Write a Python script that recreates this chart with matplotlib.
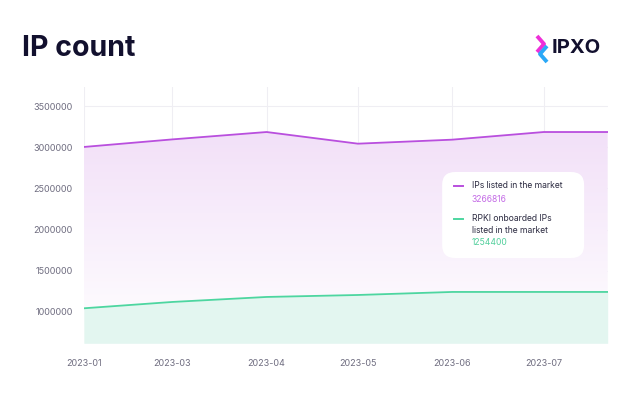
import numpy as np
import matplotlib
matplotlib.use("Agg")
import matplotlib.pyplot as plt
import matplotlib.dates as mdates
from matplotlib.patches import FancyBboxPatch, Polygon
from matplotlib.lines import Line2D
from datetime import datetime

plt.rcParams['font.family'] = ['Inter', 'DejaVu Sans']

dates = ["2023-01-31", "2023-03-01", "2023-04-01", "2023-05-01",
         "2023-06-01", "2023-07-01", "2023-07-22"]
ips_listed = [3005000, 3097000, 3187000, 3045000, 3094000, 3187000, 3187000]
rpki_listed = [1041000, 1118000, 1179000, 1203000, 1240000, 1240000, 1240000]
yticks = [1000000, 1500000, 2000000, 2500000, 3000000, 3500000]
legend_labels = ["IPs listed in the market", "RPKI onboarded IPs\nlisted in the market"]
legend_values = ["3266816", "1254400"]

purple = "#b94fde"
green = "#4dd6a0"
grid_c = "#efeef3"
tick_c = "#6f6d80"
text_c = "#2b2a40"

x = mdates.date2num([datetime.strptime(d, "%Y-%m-%d") for d in dates])
ymin, ymax = 615000, 3732000

fig = plt.figure(figsize=(6.4, 3.93), dpi=100)
ax = fig.add_axes([0.131, 0.1265, 0.8185, 0.6515])

# purple area, vertical gradient clipped to the area under the line
grad = np.linspace(0, 1, 256)
top_rgb = np.array([0xf2, 0xe0, 0xf8]) / 255
img = np.ones((256, 1, 4))
for i in range(3):
    img[:, 0, i] = 1 + (top_rgb[i] - 1) * grad
im = ax.imshow(img, aspect="auto", origin="lower",
               extent=[x[0], x[-1], ymin, max(ips_listed)], zorder=1)
poly = Polygon(np.column_stack([np.r_[x, x[::-1]],
                                np.r_[ips_listed, [ymin] * len(x)]]),
               transform=ax.transData, facecolor="none", edgecolor="none")
ax.add_patch(poly)
im.set_clip_path(poly)

ax.fill_between(x, ymin, rpki_listed, color="#e3f6f0", zorder=2, lw=0)
ax.plot(x, ips_listed, color=purple, lw=1.3, zorder=3)
ax.plot(x, rpki_listed, color=green, lw=1.3, zorder=3)

ax.set_xlim(x[0], x[-1])
ax.set_ylim(ymin, ymax)
ax.set_xticks(x[:-1])
ax.xaxis.set_major_formatter(mdates.DateFormatter("%Y-%m"))
ax.set_yticks(yticks)
ax.set_yticklabels([str(v) for v in yticks])
ax.tick_params(axis="both", length=0, labelsize=6.5, colors=tick_c)
ax.tick_params(axis="y", pad=8)
ax.tick_params(axis="x", pad=11)
ax.grid(True, color=grid_c, lw=0.8, zorder=0)
ax.set_axisbelow(True)
for s in ax.spines.values():
    s.set_visible(False)

# legend card
box = FancyBboxPatch((0.684, 0.333), 0.271, 0.336,
                     boxstyle="round,pad=0,rounding_size=0.025",
                     transform=ax.transAxes, facecolor="white", edgecolor="none",
                     zorder=5, mutation_aspect=2.0)
ax.add_patch(box)

tx = 0.741
ax.add_line(Line2D([0.7065, 0.724], [0.615, 0.615], transform=ax.transAxes,
                   color=purple, lw=1.4, zorder=6))
ax.text(tx, 0.615, legend_labels[0], transform=ax.transAxes, fontsize=6.2,
        color=text_c, va="center", ha="left", zorder=6)
ax.text(tx, 0.560, legend_values[0], transform=ax.transAxes, fontsize=6.2,
        color="#c46be6", va="center", ha="left", zorder=6)

ax.add_line(Line2D([0.7065, 0.724], [0.486, 0.486], transform=ax.transAxes,
                   color=green, lw=1.4, zorder=6))
l1, l2 = legend_labels[1].split("\n")
ax.text(tx, 0.486, l1, transform=ax.transAxes, fontsize=6.2,
        color=text_c, va="center", ha="left", zorder=6)
ax.text(tx, 0.439, l2, transform=ax.transAxes, fontsize=6.2,
        color=text_c, va="center", ha="left", zorder=6)
ax.text(tx, 0.392, legend_values[1], transform=ax.transAxes, fontsize=6.2,
        color="#52cf9c", va="center", ha="left", zorder=6)

# title
fig.text(22 / 640, 1 - 48 / 393, "IP count", fontsize=20.5, fontweight="bold",
         color="#12102e", va="center", ha="left")

# logo
W, H = 640, 393
def fl(xs, ys, c):
    fig.add_artist(Line2D([v / W for v in xs], [1 - v / H for v in ys],
                          color=c, lw=2.8, solid_capstyle="butt"))
fl([537, 544, 537], [36, 44, 52], "#ee2fd8")
fl([547, 540, 547], [46, 54, 62], "#2aa8f7")
fig.text(552 / W, 1 - 48 / H, "IPXO", fontsize=14.5, fontweight="bold",
         color="#12102e", va="center", ha="left")

fig.savefig("out.png", dpi=100, facecolor="white")
